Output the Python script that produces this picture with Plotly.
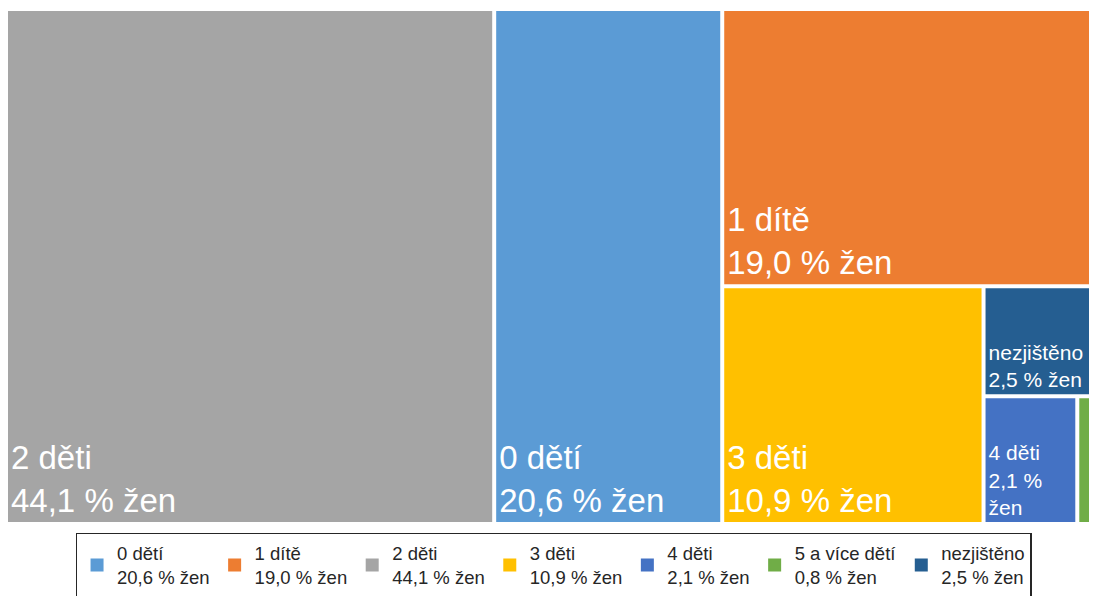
import plotly.graph_objects as go

# ---- data ----
labels = ["0 dětí", "1 dítě", "2 děti", "3 děti", "4 děti", "5 a více dětí", "nezjištěno"]
values = [20.6, 19.0, 44.1, 10.9, 2.1, 0.8, 2.5]
colors = ["#5B9BD5", "#ED7D31", "#A5A5A5", "#FFC000", "#4472C4", "#70AD47", "#255E91"]

def pct(v):
    return f"{v:.1f}".replace(".", ",") + " % žen"

# tile labels (narrow tiles wrap, the tiniest shows none)
tile_text = []
tile_size = []
for lab, v in zip(labels, values):
    if v < 1:
        tile_text.append("")
        tile_size.append(10)
    elif v < 2.3:
        tile_text.append(lab + "<br>" + pct(v).replace(" % ", " %<br>"))
        tile_size.append(21)
    elif v < 5:
        tile_text.append(lab + "<br>" + pct(v))
        tile_size.append(21)
    else:
        tile_text.append(lab + "<br>" + pct(v))
        tile_size.append(33)

fig = go.Figure()
fig.add_trace(go.Treemap(
    labels=labels,
    parents=[""] * len(labels),
    values=values,
    text=tile_text,
    textinfo="text",
    textposition="bottom left",
    textfont=dict(family="Liberation Sans, Arial, sans-serif", size=tile_size, color="white"),
    marker=dict(colors=colors, line=dict(width=0), pad=dict(t=0, l=0, r=0, b=0)),
    tiling=dict(packing="binary", pad=4),
    sort=True,
    pathbar=dict(visible=False),
    hoverinfo="skip",
))

for lab, v, c in zip(labels, values, colors):
    fig.add_trace(go.Scatter(
        x=[None], y=[None], mode="markers",
        marker=dict(symbol="square", size=13, color=c),
        name=lab + "<br>" + pct(v),
        showlegend=True,
    ))

fig.update_layout(
    width=1103, height=596,
    margin=dict(l=0, r=0, t=3, b=82),
    paper_bgcolor="white", plot_bgcolor="white",
    xaxis=dict(visible=False), yaxis=dict(visible=False),
    font=dict(family="Liberation Sans, Arial, sans-serif", color="#262626"),
    legend=dict(
        orientation="h", x=0.4946, xanchor="center", y=-0.0215, yanchor="top",
        bordercolor="#262626", borderwidth=1.5,
        font=dict(size=18.5, color="#262626"),
        itemwidth=30, tracegroupgap=0,
    ),
)

fig.write_html("out.html")
